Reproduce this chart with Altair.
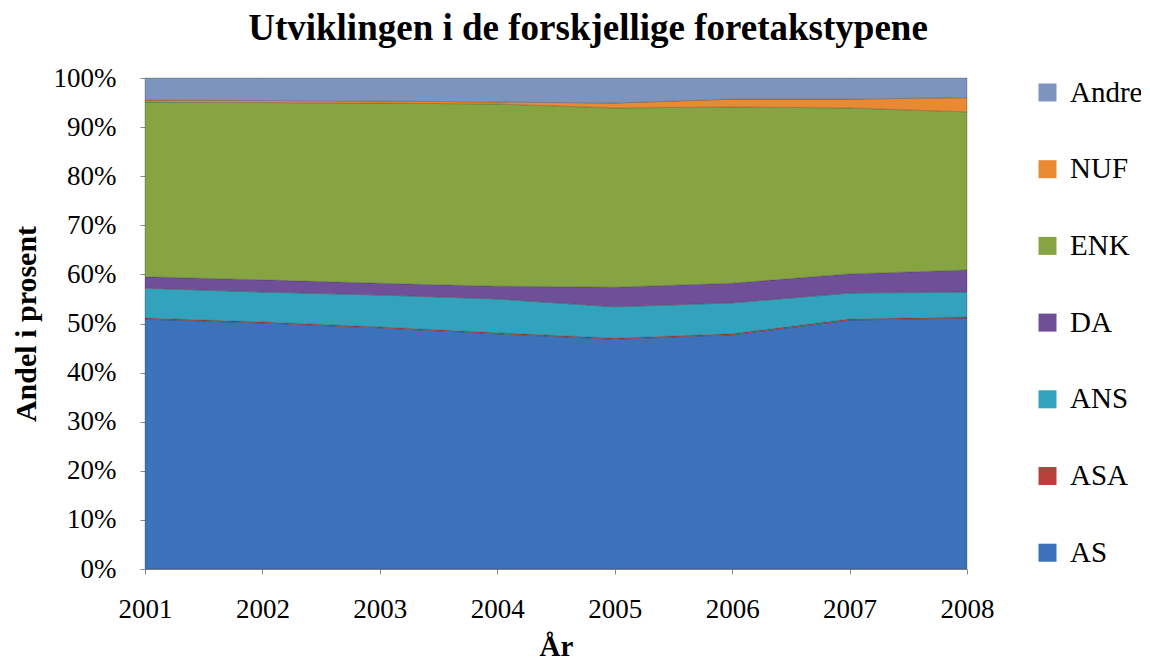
import altair as alt
import pandas as pd

years = [2001, 2002, 2003, 2004, 2005, 2006, 2007, 2008]
series = ["AS", "ASA", "ANS", "DA", "ENK", "NUF", "Andre"]
AS = [50.9, 50.1, 49.1, 47.9, 46.8, 47.7, 50.7, 51.1]
ASA = [0.2, 0.2, 0.2, 0.2, 0.2, 0.2, 0.2, 0.2]
ANS = [6.1, 6.1, 6.5, 6.9, 6.4, 6.3, 5.3, 5.1]
DA = [2.3, 2.5, 2.4, 2.6, 4.0, 4.0, 3.9, 4.5]
ENK = [35.6, 36.1, 36.7, 37.1, 36.5, 35.9, 33.8, 32.2]
NUF = [0.4, 0.4, 0.4, 0.4, 1.0, 1.6, 1.8, 2.9]
Andre = [4.5, 4.6, 4.7, 4.9, 5.1, 4.3, 4.3, 4.0]

legend_order = ["Andre", "NUF", "ENK", "DA", "ANS", "ASA", "AS"]
legend_colors = ["#7D94BF", "#E98A33", "#86A542", "#6F4F97", "#33A3BD", "#B8403C", "#3C72BA"]

values = {"AS": AS, "ASA": ASA, "ANS": ANS, "DA": DA, "ENK": ENK, "NUF": NUF, "Andre": Andre}
rows = []
for i, s in enumerate(series):
    for y, v in zip(years, values[s]):
        rows.append({"year": y, "type": s, "value": v, "idx": i})
df = pd.DataFrame(rows)

font = "Liberation Serif"

chart = alt.Chart(df).mark_area(opacity=1, stroke="#3a3a3a", strokeWidth=0.6, strokeOpacity=0.5).encode(
    x=alt.X("year:Q", scale=alt.Scale(domain=[2001, 2008], nice=False),
            axis=alt.Axis(values=years, format="d", title="År", grid=False, labelFlush=False,
                          labelFont=font,
                          labelFontSize=27, labelColor="black", labelPadding=22,
                          titleFont=font, titleFontSize=29, titleFontWeight="bold", titleColor="black",
                          titlePadding=10, domainColor="#888888", tickColor="#888888", tickSize=5)),
    y=alt.Y("value:Q", stack="normalize",
            scale=alt.Scale(domain=[0, 1]),
            axis=alt.Axis(values=[i / 10 for i in range(11)], format=".0%", title="Andel i prosent", grid=False,
                          labelFont=font,
                          labelFontSize=27, labelColor="black", labelPadding=24,
                          titleFont=font, titleFontSize=30, titleFontWeight="bold", titleColor="black",
                          titlePadding=12, domainColor="#888888", tickColor="#888888", tickSize=5)),
    color=alt.Color("type:N", scale=alt.Scale(domain=legend_order, range=legend_colors),
                    legend=alt.Legend(title=None, orient="none", legendX=888, legendY=0, padding=0,
                                      labelFont=font,
                                      labelFontSize=29, labelColor="black", labelLimit=200,
                                      symbolType="square", symbolSize=324, symbolStrokeWidth=0,
                                      rowPadding=46.7, labelOffset=8)),
    order=alt.Order("idx:Q", sort="ascending"),
).properties(
    width=822, height=491,
    title=alt.TitleParams("Utviklingen i de forskjellige foretakstypene", font=font, fontSize=37,
                          fontWeight="bold", color="black", anchor="middle", dx=32, offset=16),
    padding={"left": 137, "top": 70, "right": 174, "bottom": 95},
    autosize=alt.AutoSizeParams(type="none"),
).configure_view(stroke=None)

chart.save("out.html", embed_options={"renderer": "svg", "actions": False})
